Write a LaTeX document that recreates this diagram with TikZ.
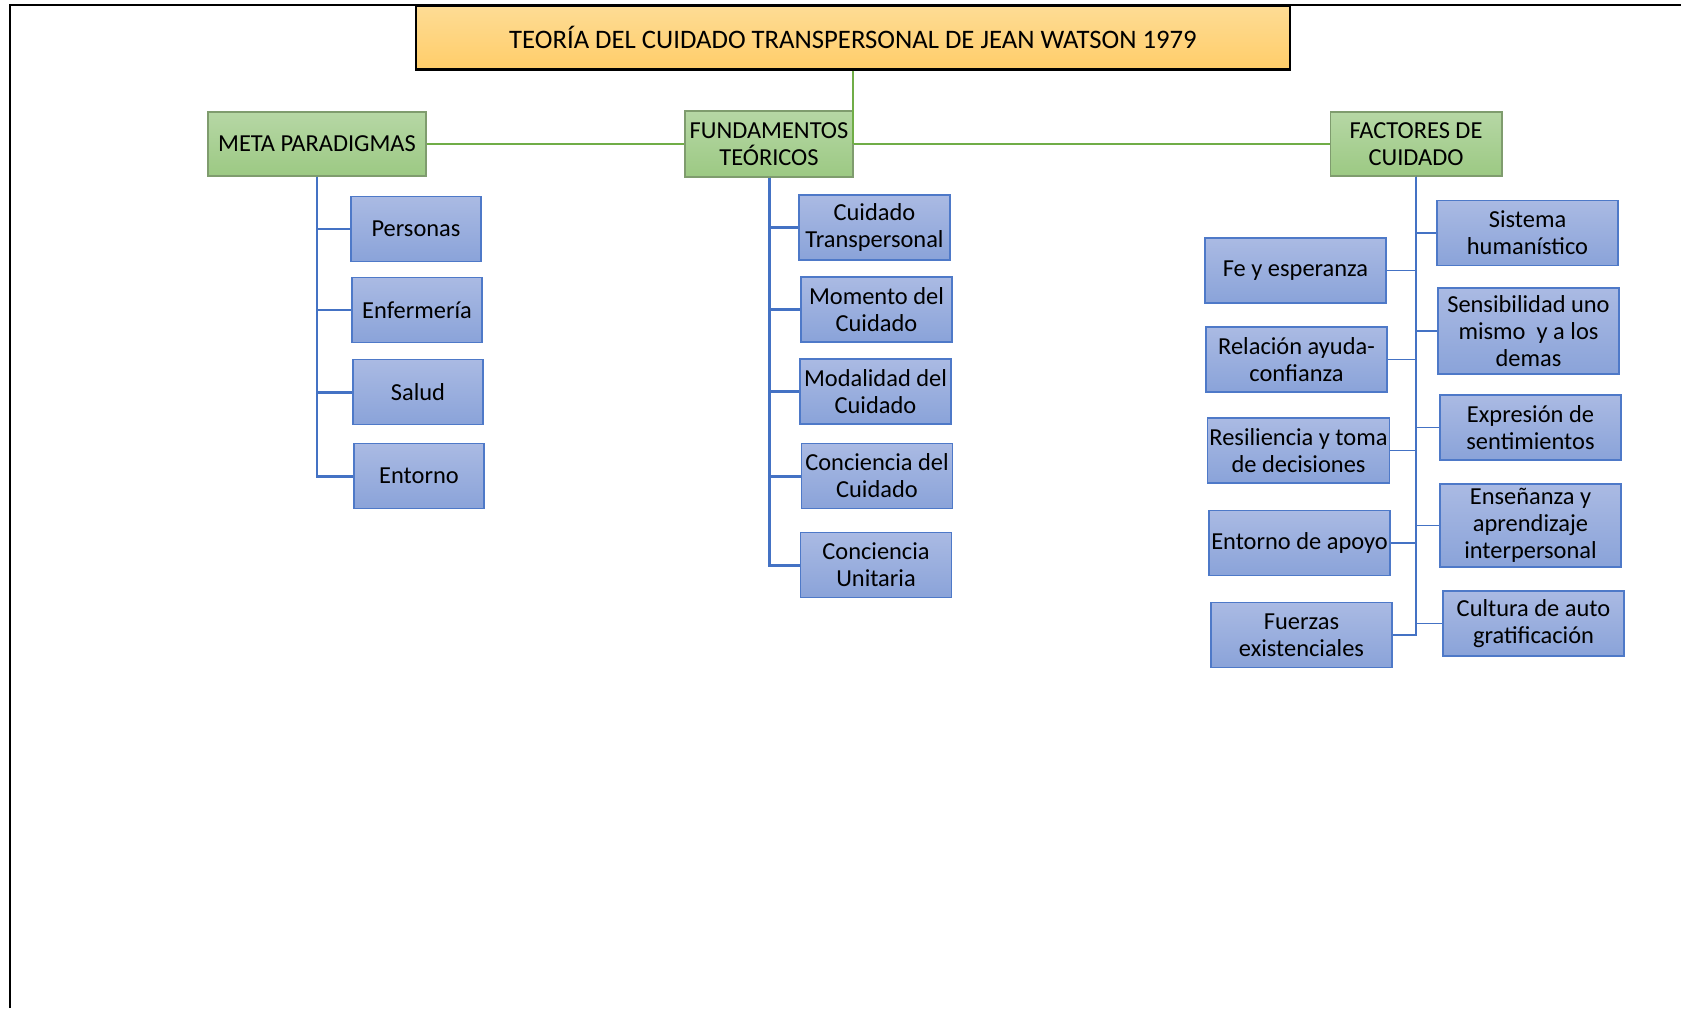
\documentclass[tikz,border=0pt]{standalone}
\usepackage{fontspec}
\setmainfont{Carlito}
\usepackage{tikz}
\definecolor{WTitleTop}{HTML}{FEDC95}
\definecolor{WTitleBot}{HTML}{FFCD69}
\definecolor{WGreenTop}{HTML}{B6D7A5}
\definecolor{WGreenBot}{HTML}{9CC983}
\definecolor{WGreenEdge}{HTML}{7F9C6E}
\definecolor{WGreenLine}{HTML}{70AD47}
\definecolor{WBlueTop}{HTML}{AABAE3}
\definecolor{WBlueBot}{HTML}{8AA3D9}
\definecolor{WBlueEdge}{HTML}{4E79C8}
\definecolor{WBlueLine}{HTML}{4472C4}

\begin{document}
\begin{tikzpicture}[x=0.02cm,y=-0.02cm,
  every node/.style={font=\fontsize{13.9}{15.4}\selectfont,align=center,inner sep=1pt},
  titlebox/.style={draw=black,line width=1.4pt,top color=WTitleTop,bottom color=WTitleBot,minimum width=17.48cm,minimum height=1.28cm,font=\fontsize{15.2}{17}\selectfont},
  catbox/.style={draw=WGreenEdge,line width=0.6pt,top color=WGreenTop,bottom color=WGreenBot,minimum height=1.28cm},
  itembox/.style={draw=WBlueEdge,line width=0.8pt,top color=WBlueTop,bottom color=WBlueBot,minimum height=1.3cm},
  greenline/.style={WGreenLine,line width=1.6pt},
  blueline/.style={WBlueLine,line width=1.7pt},
  thinline/.style={WBlueLine,line width=0.9pt}]
\path[use as bounding box] (0,0) rectangle (1681,1008);
\draw[line width=1.2pt] (9.6,1008) -- (9.6,5) -- (1681,5);
% title and the three groups
\node[titlebox] (title) at (853,37.5) {TEORÍA DEL CUIDADO TRANSPERSONAL DE JEAN WATSON 1979};
\node[catbox,minimum width=4.36cm] (meta) at (317,144) {META PARADIGMAS};
\node[catbox,minimum width=3.36cm,minimum height=1.32cm] (fund) at (769,144) {FUNDAMENTOS\\TEÓRICOS};
\node[catbox,minimum width=3.44cm] (factores) at (1416,144) {FACTORES DE\\CUIDADO};
\draw[greenline] (title.south) -- (title.south |- fund.east);
\draw[greenline] (meta.east) -- (fund.west);
\draw[greenline] (fund.east) -- (factores.west);
% meta paradigmas
\node[itembox,minimum width=2.6cm] (personas) at (416,229) {Personas};
\node[itembox,minimum width=2.6cm] (enfermeria) at (417,310) {Enfermería};
\node[itembox,minimum width=2.6cm] (salud) at (418,392) {Salud};
\node[itembox,minimum width=2.6cm] (entorno) at (419,476) {Entorno};
\draw[blueline] (meta.south) |- (personas.west);
\draw[blueline] (meta.south) |- (enfermeria.west);
\draw[blueline] (meta.south) |- (salud.west);
\draw[blueline] (meta.south) |- (entorno.west);
% fundamentos teoricos
\node[itembox,minimum width=3.02cm] (cuidtrans) at (874.5,227.5) {Cuidado\\Transpersonal};
\node[itembox,minimum width=3.02cm] (momento) at (876.5,309.5) {Momento del\\Cuidado};
\node[itembox,minimum width=3.02cm] (modalidad) at (875.5,391.5) {Modalidad del\\Cuidado};
\node[itembox,minimum width=3.02cm] (concuid) at (877,476) {Conciencia del\\Cuidado};
\node[itembox,minimum width=3.02cm] (conunit) at (876,565) {Conciencia\\Unitaria};
\draw[blueline] (fund.south) |- (cuidtrans.west);
\draw[blueline] (fund.south) |- (momento.west);
\draw[blueline] (fund.south) |- (modalidad.west);
\draw[blueline] (fund.south) |- (concuid.west);
\draw[blueline] (fund.south) |- (conunit.west);
% factores de cuidado
\node[itembox,minimum width=3.62cm] (sistema) at (1527.5,233) {Sistema\\humanístico};
\node[itembox,minimum width=3.62cm,minimum height=1.72cm] (sensib) at (1528.5,331) {Sensibilidad uno\\mismo~ y a los\\demas};
\node[itembox,minimum width=3.62cm] (expresion) at (1530.5,427.5) {Expresión de\\sentimientos};
\node[itembox,minimum width=3.62cm,minimum height=1.66cm] (ensenanza) at (1530.5,525.5) {Enseñanza y\\aprendizaje\\interpersonal};
\node[itembox,minimum width=3.62cm] (cultura) at (1533.5,623.5) {Cultura de auto\\gratificación};
\node[itembox,minimum width=3.62cm] (fe) at (1295.5,270.5) {Fe y esperanza};
\node[itembox,minimum width=3.62cm] (relacion) at (1296.5,359.5) {Relación ayuda-\\confianza};
\node[itembox,minimum width=3.62cm] (resiliencia) at (1298.5,450.5) {Resiliencia y toma\\de decisiones};
\node[itembox,minimum width=3.62cm] (apoyo) at (1299.5,543) {Entorno de apoyo};
\node[itembox,minimum width=3.62cm] (fuerzas) at (1301.5,635) {Fuerzas\\existenciales};
\draw[thinline] (factores.south) |- (fuerzas.east);
\draw[thinline] (factores.south) |- (sistema.west);
\draw[thinline] (factores.south) |- (sensib.west);
\draw[thinline] (factores.south) |- (expresion.west);
\draw[thinline] (factores.south) |- (ensenanza.west);
\draw[thinline] (factores.south) |- (cultura.west);
\draw[thinline] (factores.south) |- (fe.east);
\draw[thinline] (factores.south) |- (relacion.east);
\draw[thinline] (factores.south) |- (resiliencia.east);
\draw[thinline] (factores.south) |- (apoyo.east);
\end{tikzpicture}
\end{document}
